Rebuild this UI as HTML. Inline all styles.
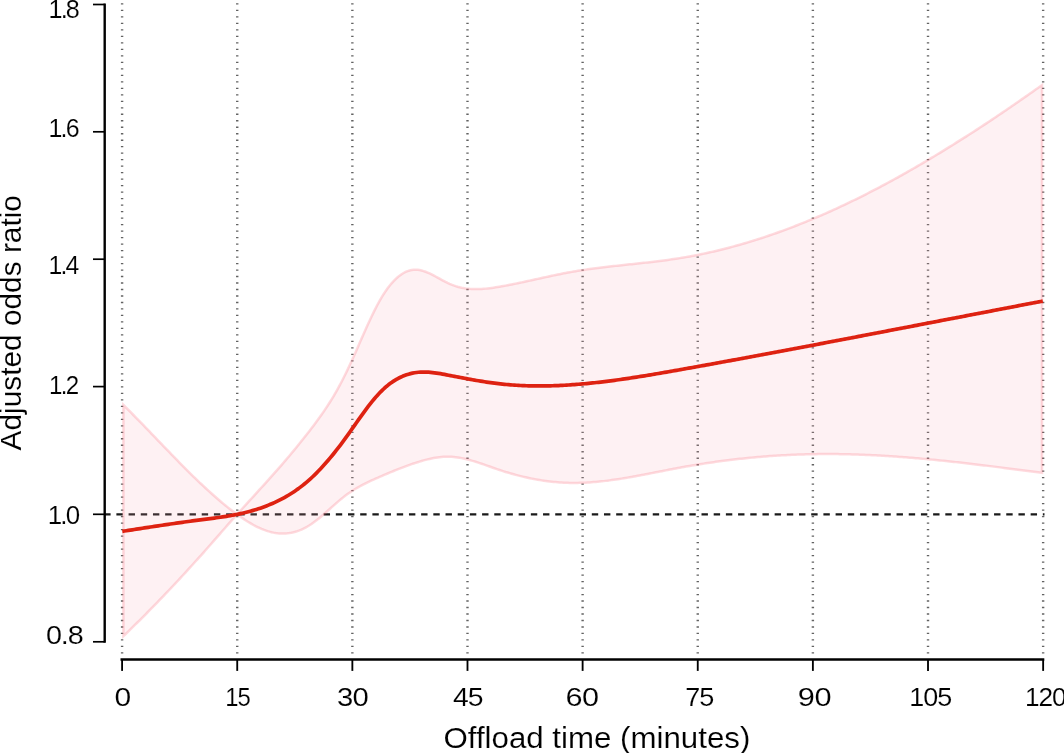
<!DOCTYPE html>
<html lang="en">
<head>
<meta charset="utf-8">
<title>Adjusted odds ratio by offload time</title>
<style>
html,body{margin:0;padding:0;background:#fff;}
body{width:1064px;height:753px;overflow:hidden;}
svg{display:block;}
text{white-space:pre;}
</style>
</head>
<body>
<svg width="1064" height="753" viewBox="0 0 1064 753" role="img" aria-label="Adjusted odds ratio by offload time (minutes)">
<rect width="1064" height="753" fill="#fff"/>
<g stroke="#626262" stroke-width="2.4" stroke-dasharray="1.3 5.19" fill="none">
<line x1="122.10" y1="-3.2" x2="122.10" y2="655"/>
<line x1="237.23" y1="-3.2" x2="237.23" y2="655"/>
<line x1="352.36" y1="-3.2" x2="352.36" y2="655"/>
<line x1="467.49" y1="-3.2" x2="467.49" y2="655"/>
<line x1="582.62" y1="-3.2" x2="582.62" y2="655"/>
<line x1="697.75" y1="-3.2" x2="697.75" y2="655"/>
<line x1="812.88" y1="-3.2" x2="812.88" y2="655"/>
<line x1="928.01" y1="-3.2" x2="928.01" y2="655"/>
<line x1="1043.14" y1="-3.2" x2="1043.14" y2="655"/>
</g>
<line x1="104.2" y1="514.4" x2="1044.5" y2="514.4" stroke="#1a1a1a" stroke-width="2.3" stroke-dasharray="6.4 5.79"/>
<path d="M123.4,405.01 L125.4,406.99 L127.4,408.97 L129.4,410.97 L131.4,412.98 L133.4,415.00 L135.4,417.03 L137.4,419.07 L139.4,421.12 L141.4,423.17 L143.4,425.23 L145.4,427.30 L147.4,429.37 L149.4,431.44 L151.4,433.52 L153.4,435.60 L155.4,437.68 L157.4,439.76 L159.4,441.84 L161.4,443.93 L163.4,446.01 L165.4,448.09 L167.4,450.16 L169.4,452.23 L171.4,454.30 L173.4,456.36 L175.4,458.42 L177.4,460.47 L179.4,462.51 L181.4,464.54 L183.4,466.56 L185.4,468.58 L187.4,470.58 L189.4,472.57 L191.4,474.55 L193.4,476.52 L195.4,478.47 L197.4,480.41 L199.4,482.33 L201.5,484.23 L203.5,486.12 L205.5,487.99 L207.5,489.84 L209.5,491.68 L211.5,493.49 L213.5,495.28 L215.5,497.04 L217.5,498.79 L219.5,500.51 L221.5,502.20 L223.5,503.87 L225.5,505.51 L227.5,507.12 L229.5,508.71 L231.5,510.26 L233.5,511.78 L235.5,513.28 L237.5,514.74 L239.5,516.16 L241.5,517.55 L243.5,518.90 L245.5,520.21 L247.5,521.48 L249.5,522.70 L251.5,523.86 L253.5,524.98 L255.5,526.04 L257.5,527.04 L259.5,527.98 L261.5,528.86 L263.5,529.67 L265.5,530.41 L267.5,531.08 L269.5,531.67 L271.5,532.19 L273.5,532.63 L275.5,532.98 L277.5,533.25 L279.5,533.44 L281.5,533.53 L283.5,533.54 L285.5,533.46 L287.5,533.30 L289.5,533.04 L291.5,532.69 L293.5,532.25 L295.5,531.71 L297.5,531.08 L299.5,530.36 L301.5,529.54 L303.5,528.63 L305.5,527.62 L307.5,526.51 L309.5,525.30 L311.5,523.99 L313.5,522.59 L315.5,521.10 L317.5,519.55 L319.5,517.93 L321.5,516.25 L323.5,514.54 L325.5,512.79 L327.5,511.01 L329.5,509.22 L331.5,507.43 L333.5,505.64 L335.5,503.87 L337.5,502.12 L339.5,500.41 L341.5,498.74 L343.5,497.13 L345.5,495.58 L347.5,494.10 L349.5,492.69 L351.5,491.34 L353.6,490.05 L355.6,488.81 L357.6,487.63 L359.6,486.49 L361.6,485.40 L363.6,484.35 L365.6,483.33 L367.6,482.35 L369.6,481.39 L371.6,480.46 L373.6,479.55 L375.6,478.66 L377.6,477.77 L379.6,476.90 L381.6,476.04 L383.6,475.18 L385.6,474.33 L387.6,473.48 L389.6,472.64 L391.6,471.81 L393.6,470.99 L395.6,470.18 L397.6,469.38 L399.6,468.59 L401.6,467.82 L403.6,467.06 L405.6,466.31 L407.6,465.58 L409.6,464.87 L411.6,464.17 L413.6,463.49 L415.6,462.83 L417.6,462.19 L419.6,461.57 L421.6,460.98 L423.6,460.41 L425.6,459.88 L427.6,459.38 L429.6,458.91 L431.6,458.48 L433.6,458.09 L435.6,457.75 L437.6,457.45 L439.6,457.20 L441.6,457.00 L443.6,456.85 L445.6,456.76 L447.6,456.72 L449.6,456.75 L451.6,456.84 L453.6,456.99 L455.6,457.20 L457.6,457.46 L459.6,457.78 L461.6,458.14 L463.6,458.55 L465.6,459.00 L467.6,459.49 L469.6,460.02 L471.6,460.58 L473.6,461.17 L475.6,461.78 L477.6,462.42 L479.6,463.07 L481.6,463.75 L483.6,464.43 L485.6,465.13 L487.6,465.83 L489.6,466.54 L491.6,467.25 L493.6,467.95 L495.6,468.65 L497.6,469.34 L499.6,470.02 L501.6,470.68 L503.6,471.33 L505.6,471.96 L507.7,472.57 L509.7,473.17 L511.7,473.75 L513.7,474.31 L515.7,474.86 L517.7,475.39 L519.7,475.90 L521.7,476.40 L523.7,476.88 L525.7,477.34 L527.7,477.78 L529.7,478.21 L531.7,478.62 L533.7,479.01 L535.7,479.38 L537.7,479.74 L539.7,480.07 L541.7,480.39 L543.7,480.69 L545.7,480.98 L547.7,481.24 L549.7,481.48 L551.7,481.71 L553.7,481.92 L555.7,482.11 L557.7,482.28 L559.7,482.43 L561.7,482.56 L563.7,482.67 L565.7,482.76 L567.7,482.84 L569.7,482.89 L571.7,482.92 L573.7,482.94 L575.7,482.93 L577.7,482.91 L579.7,482.87 L581.7,482.81 L583.7,482.73 L585.7,482.64 L587.7,482.53 L589.7,482.40 L591.7,482.26 L593.7,482.11 L595.7,481.94 L597.7,481.75 L599.7,481.55 L601.7,481.34 L603.7,481.12 L605.7,480.88 L607.7,480.64 L609.7,480.38 L611.7,480.11 L613.7,479.83 L615.7,479.54 L617.7,479.24 L619.7,478.93 L621.7,478.61 L623.7,478.29 L625.7,477.95 L627.7,477.61 L629.7,477.27 L631.7,476.91 L633.7,476.55 L635.7,476.19 L637.7,475.82 L639.7,475.44 L641.7,475.07 L643.7,474.68 L645.7,474.30 L647.7,473.91 L649.7,473.52 L651.7,473.13 L653.7,472.73 L655.7,472.34 L657.7,471.94 L659.8,471.55 L661.8,471.15 L663.8,470.76 L665.8,470.37 L667.8,469.97 L669.8,469.59 L671.8,469.20 L673.8,468.82 L675.8,468.44 L677.8,468.06 L679.8,467.69 L681.8,467.32 L683.8,466.96 L685.8,466.60 L687.8,466.25 L689.8,465.91 L691.8,465.57 L693.8,465.23 L695.8,464.90 L697.8,464.57 L699.8,464.25 L701.8,463.93 L703.8,463.62 L705.8,463.31 L707.8,463.01 L709.8,462.71 L711.8,462.42 L713.8,462.14 L715.8,461.85 L717.8,461.58 L719.8,461.30 L721.8,461.04 L723.8,460.77 L725.8,460.52 L727.8,460.27 L729.8,460.02 L731.8,459.78 L733.8,459.54 L735.8,459.31 L737.8,459.08 L739.8,458.86 L741.8,458.64 L743.8,458.43 L745.8,458.22 L747.8,458.02 L749.8,457.82 L751.8,457.63 L753.8,457.44 L755.8,457.26 L757.8,457.08 L759.8,456.91 L761.8,456.74 L763.8,456.58 L765.8,456.42 L767.8,456.27 L769.8,456.12 L771.8,455.98 L773.8,455.84 L775.8,455.71 L777.8,455.59 L779.8,455.46 L781.8,455.35 L783.8,455.23 L785.8,455.13 L787.8,455.02 L789.8,454.93 L791.8,454.84 L793.8,454.75 L795.8,454.67 L797.8,454.59 L799.8,454.52 L801.8,454.45 L803.8,454.39 L805.8,454.33 L807.8,454.28 L809.8,454.24 L811.8,454.19 L813.9,454.16 L815.9,454.13 L817.9,454.10 L819.9,454.08 L821.9,454.06 L823.9,454.05 L825.9,454.04 L827.9,454.04 L829.9,454.05 L831.9,454.05 L833.9,454.07 L835.9,454.09 L837.9,454.11 L839.9,454.14 L841.9,454.17 L843.9,454.20 L845.9,454.24 L847.9,454.29 L849.9,454.34 L851.9,454.39 L853.9,454.45 L855.9,454.51 L857.9,454.58 L859.9,454.65 L861.9,454.73 L863.9,454.81 L865.9,454.89 L867.9,454.98 L869.9,455.07 L871.9,455.17 L873.9,455.26 L875.9,455.37 L877.9,455.47 L879.9,455.59 L881.9,455.70 L883.9,455.82 L885.9,455.94 L887.9,456.06 L889.9,456.19 L891.9,456.33 L893.9,456.46 L895.9,456.60 L897.9,456.74 L899.9,456.89 L901.9,457.04 L903.9,457.19 L905.9,457.35 L907.9,457.50 L909.9,457.66 L911.9,457.83 L913.9,458.00 L915.9,458.17 L917.9,458.34 L919.9,458.52 L921.9,458.70 L923.9,458.88 L925.9,459.06 L927.9,459.25 L929.9,459.44 L931.9,459.63 L933.9,459.83 L935.9,460.02 L937.9,460.22 L939.9,460.43 L941.9,460.63 L943.9,460.84 L945.9,461.05 L947.9,461.26 L949.9,461.47 L951.9,461.69 L953.9,461.90 L955.9,462.12 L957.9,462.34 L959.9,462.57 L961.9,462.79 L963.9,463.02 L966.0,463.25 L968.0,463.48 L970.0,463.71 L972.0,463.95 L974.0,464.18 L976.0,464.42 L978.0,464.66 L980.0,464.90 L982.0,465.14 L984.0,465.39 L986.0,465.63 L988.0,465.88 L990.0,466.13 L992.0,466.37 L994.0,466.62 L996.0,466.87 L998.0,467.13 L1000.0,467.38 L1002.0,467.63 L1004.0,467.89 L1006.0,468.14 L1008.0,468.40 L1010.0,468.66 L1012.0,468.92 L1014.0,469.18 L1016.0,469.44 L1018.0,469.70 L1020.0,469.96 L1022.0,470.22 L1024.0,470.48 L1026.0,470.74 L1028.0,471.00 L1030.0,471.27 L1032.0,471.53 L1034.0,471.80 L1036.0,472.06 L1038.0,472.32 L1040.0,472.59 L1042.0,472.85 L1042.0,85.07 L1040.0,86.49 L1038.0,87.91 L1036.0,89.33 L1034.0,90.74 L1032.0,92.15 L1030.0,93.56 L1028.0,94.96 L1026.0,96.36 L1024.0,97.76 L1022.0,99.15 L1020.0,100.54 L1018.0,101.93 L1016.0,103.31 L1014.0,104.69 L1012.0,106.06 L1010.0,107.43 L1008.0,108.80 L1006.0,110.16 L1004.0,111.52 L1002.0,112.88 L1000.0,114.23 L998.0,115.58 L996.0,116.92 L994.0,118.26 L992.0,119.60 L990.0,120.93 L988.0,122.26 L986.0,123.59 L984.0,124.91 L982.0,126.22 L980.0,127.53 L978.0,128.84 L976.0,130.14 L974.0,131.44 L972.0,132.74 L970.0,134.03 L968.0,135.31 L966.0,136.59 L963.9,137.87 L961.9,139.14 L959.9,140.41 L957.9,141.68 L955.9,142.93 L953.9,144.19 L951.9,145.44 L949.9,146.68 L947.9,147.92 L945.9,149.16 L943.9,150.39 L941.9,151.61 L939.9,152.83 L937.9,154.05 L935.9,155.26 L933.9,156.47 L931.9,157.67 L929.9,158.86 L927.9,160.05 L925.9,161.24 L923.9,162.42 L921.9,163.60 L919.9,164.77 L917.9,165.93 L915.9,167.09 L913.9,168.24 L911.9,169.39 L909.9,170.54 L907.9,171.68 L905.9,172.81 L903.9,173.94 L901.9,175.06 L899.9,176.17 L897.9,177.29 L895.9,178.39 L893.9,179.49 L891.9,180.58 L889.9,181.67 L887.9,182.75 L885.9,183.83 L883.9,184.90 L881.9,185.97 L879.9,187.03 L877.9,188.08 L875.9,189.13 L873.9,190.17 L871.9,191.20 L869.9,192.23 L867.9,193.26 L865.9,194.27 L863.9,195.28 L861.9,196.29 L859.9,197.29 L857.9,198.28 L855.9,199.27 L853.9,200.25 L851.9,201.22 L849.9,202.19 L847.9,203.15 L845.9,204.10 L843.9,205.05 L841.9,205.99 L839.9,206.93 L837.9,207.86 L835.9,208.78 L833.9,209.69 L831.9,210.60 L829.9,211.50 L827.9,212.40 L825.9,213.29 L823.9,214.17 L821.9,215.04 L819.9,215.91 L817.9,216.77 L815.9,217.62 L813.9,218.47 L811.8,219.31 L809.8,220.14 L807.8,220.97 L805.8,221.79 L803.8,222.60 L801.8,223.41 L799.8,224.20 L797.8,224.99 L795.8,225.78 L793.8,226.55 L791.8,227.32 L789.8,228.08 L787.8,228.84 L785.8,229.59 L783.8,230.33 L781.8,231.06 L779.8,231.78 L777.8,232.50 L775.8,233.21 L773.8,233.91 L771.8,234.61 L769.8,235.30 L767.8,235.98 L765.8,236.65 L763.8,237.32 L761.8,237.97 L759.8,238.62 L757.8,239.27 L755.8,239.90 L753.8,240.53 L751.8,241.15 L749.8,241.76 L747.8,242.36 L745.8,242.96 L743.8,243.55 L741.8,244.13 L739.8,244.70 L737.8,245.27 L735.8,245.82 L733.8,246.37 L731.8,246.91 L729.8,247.45 L727.8,247.97 L725.8,248.49 L723.8,249.00 L721.8,249.50 L719.8,249.99 L717.8,250.48 L715.8,250.95 L713.8,251.42 L711.8,251.88 L709.8,252.33 L707.8,252.78 L705.8,253.21 L703.8,253.64 L701.8,254.06 L699.8,254.47 L697.8,254.87 L695.8,255.27 L693.8,255.65 L691.8,256.03 L689.8,256.40 L687.8,256.76 L685.8,257.11 L683.8,257.45 L681.8,257.79 L679.8,258.11 L677.8,258.43 L675.8,258.74 L673.8,259.04 L671.8,259.33 L669.8,259.62 L667.8,259.90 L665.8,260.17 L663.8,260.44 L661.8,260.70 L659.8,260.96 L657.7,261.21 L655.7,261.45 L653.7,261.69 L651.7,261.93 L649.7,262.16 L647.7,262.39 L645.7,262.62 L643.7,262.84 L641.7,263.06 L639.7,263.28 L637.7,263.50 L635.7,263.71 L633.7,263.93 L631.7,264.14 L629.7,264.36 L627.7,264.57 L625.7,264.78 L623.7,265.00 L621.7,265.21 L619.7,265.43 L617.7,265.65 L615.7,265.87 L613.7,266.09 L611.7,266.31 L609.7,266.54 L607.7,266.77 L605.7,267.00 L603.7,267.24 L601.7,267.49 L599.7,267.73 L597.7,267.98 L595.7,268.24 L593.7,268.51 L591.7,268.77 L589.7,269.05 L587.7,269.33 L585.7,269.62 L583.7,269.92 L581.7,270.22 L579.7,270.53 L577.7,270.85 L575.7,271.18 L573.7,271.52 L571.7,271.87 L569.7,272.23 L567.7,272.59 L565.7,272.97 L563.7,273.35 L561.7,273.75 L559.7,274.15 L557.7,274.56 L555.7,274.97 L553.7,275.39 L551.7,275.81 L549.7,276.24 L547.7,276.68 L545.7,277.11 L543.7,277.55 L541.7,277.99 L539.7,278.44 L537.7,278.88 L535.7,279.32 L533.7,279.77 L531.7,280.21 L529.7,280.65 L527.7,281.09 L525.7,281.53 L523.7,281.96 L521.7,282.39 L519.7,282.82 L517.7,283.24 L515.7,283.65 L513.7,284.06 L511.7,284.46 L509.7,284.85 L507.7,285.24 L505.6,285.62 L503.6,285.99 L501.6,286.34 L499.6,286.69 L497.6,287.03 L495.6,287.35 L493.6,287.65 L491.6,287.94 L489.6,288.20 L487.6,288.43 L485.6,288.63 L483.6,288.80 L481.6,288.94 L479.6,289.04 L477.6,289.09 L475.6,289.11 L473.6,289.07 L471.6,288.98 L469.6,288.84 L467.6,288.64 L465.6,288.39 L463.6,288.07 L461.6,287.68 L459.6,287.23 L457.6,286.71 L455.6,286.11 L453.6,285.43 L451.6,284.67 L449.6,283.83 L447.6,282.91 L445.6,281.92 L443.6,280.87 L441.6,279.80 L439.6,278.70 L437.6,277.60 L435.6,276.51 L433.6,275.44 L431.6,274.42 L429.6,273.46 L427.6,272.57 L425.6,271.77 L423.6,271.08 L421.6,270.51 L419.6,270.08 L417.6,269.80 L415.6,269.68 L413.6,269.75 L411.6,270.02 L409.6,270.47 L407.6,271.11 L405.6,271.95 L403.6,272.98 L401.6,274.20 L399.6,275.63 L397.6,277.25 L395.6,279.06 L393.6,281.08 L391.6,283.30 L389.6,285.71 L387.6,288.34 L385.6,291.16 L383.6,294.19 L381.6,297.42 L379.6,300.86 L377.6,304.50 L375.6,308.33 L373.6,312.32 L371.6,316.45 L369.6,320.70 L367.6,325.06 L365.6,329.50 L363.6,334.00 L361.6,338.55 L359.6,343.11 L357.6,347.68 L355.6,352.24 L353.6,356.75 L351.5,361.21 L349.5,365.59 L347.5,369.87 L345.5,374.03 L343.5,378.06 L341.5,381.95 L339.5,385.71 L337.5,389.34 L335.5,392.85 L333.5,396.26 L331.5,399.56 L329.5,402.76 L327.5,405.87 L325.5,408.89 L323.5,411.84 L321.5,414.72 L319.5,417.54 L317.5,420.30 L315.5,423.01 L313.5,425.67 L311.5,428.30 L309.5,430.91 L307.5,433.48 L305.5,436.03 L303.5,438.56 L301.5,441.07 L299.5,443.56 L297.5,446.02 L295.5,448.47 L293.5,450.89 L291.5,453.30 L289.5,455.69 L287.5,458.06 L285.5,460.41 L283.5,462.74 L281.5,465.06 L279.5,467.36 L277.5,469.65 L275.5,471.92 L273.5,474.18 L271.5,476.43 L269.5,478.66 L267.5,480.89 L265.5,483.10 L263.5,485.31 L261.5,487.51 L259.5,489.71 L257.5,491.91 L255.5,494.10 L253.5,496.29 L251.5,498.48 L249.5,500.67 L247.5,502.86 L245.5,505.06 L243.5,507.26 L241.5,509.47 L239.5,511.69 L237.5,513.92 L235.5,516.16 L233.5,518.40 L231.5,520.66 L229.5,522.92 L227.5,525.19 L225.5,527.47 L223.5,529.75 L221.5,532.03 L219.5,534.31 L217.5,536.60 L215.5,538.89 L213.5,541.17 L211.5,543.46 L209.5,545.74 L207.5,548.02 L205.5,550.29 L203.5,552.56 L201.5,554.82 L199.4,557.07 L197.4,559.31 L195.4,561.54 L193.4,563.76 L191.4,565.98 L189.4,568.19 L187.4,570.38 L185.4,572.57 L183.4,574.75 L181.4,576.92 L179.4,579.08 L177.4,581.24 L175.4,583.38 L173.4,585.52 L171.4,587.64 L169.4,589.76 L167.4,591.87 L165.4,593.97 L163.4,596.07 L161.4,598.15 L159.4,600.23 L157.4,602.29 L155.4,604.35 L153.4,606.40 L151.4,608.44 L149.4,610.48 L147.4,612.50 L145.4,614.52 L143.4,616.53 L141.4,618.53 L139.4,620.52 L137.4,622.50 L135.4,624.48 L133.4,626.44 L131.4,628.40 L129.4,630.35 L127.4,632.29 L125.4,634.23 L123.4,636.15Z" fill="#fba5b2" fill-opacity="0.155" stroke="#fd7884" stroke-opacity="0.27" stroke-width="2.5" stroke-linejoin="miter" fill-rule="nonzero"/>
<path d="M122.3,531.34 L124.3,531.03 L126.3,530.72 L128.3,530.41 L130.3,530.11 L132.3,529.80 L134.3,529.49 L136.3,529.18 L138.3,528.87 L140.3,528.56 L142.3,528.25 L144.3,527.95 L146.3,527.64 L148.3,527.33 L150.3,527.03 L152.3,526.73 L154.3,526.42 L156.3,526.12 L158.3,525.82 L160.3,525.52 L162.3,525.22 L164.3,524.92 L166.3,524.63 L168.3,524.34 L170.3,524.04 L172.3,523.75 L174.3,523.46 L176.3,523.17 L178.3,522.89 L180.3,522.60 L182.3,522.32 L184.3,522.04 L186.3,521.77 L188.3,521.49 L190.3,521.22 L192.3,520.94 L194.3,520.68 L196.3,520.41 L198.3,520.15 L200.3,519.89 L202.3,519.63 L204.3,519.37 L206.3,519.11 L208.3,518.85 L210.3,518.59 L212.3,518.33 L214.3,518.06 L216.4,517.79 L218.4,517.51 L220.4,517.22 L222.4,516.92 L224.4,516.62 L226.4,516.30 L228.4,515.97 L230.4,515.62 L232.4,515.26 L234.4,514.89 L236.4,514.50 L238.4,514.09 L240.4,513.66 L242.4,513.21 L244.4,512.74 L246.4,512.25 L248.4,511.74 L250.4,511.20 L252.4,510.64 L254.4,510.05 L256.4,509.44 L258.4,508.80 L260.4,508.13 L262.4,507.43 L264.4,506.70 L266.4,505.94 L268.4,505.15 L270.4,504.33 L272.4,503.47 L274.4,502.58 L276.4,501.65 L278.4,500.68 L280.4,499.68 L282.4,498.63 L284.4,497.55 L286.4,496.42 L288.4,495.24 L290.4,494.02 L292.4,492.75 L294.4,491.43 L296.4,490.05 L298.4,488.63 L300.4,487.14 L302.4,485.60 L304.4,484.00 L306.4,482.34 L308.4,480.62 L310.4,478.84 L312.4,476.99 L314.4,475.08 L316.4,473.10 L318.4,471.07 L320.4,468.97 L322.4,466.82 L324.4,464.61 L326.4,462.34 L328.4,460.02 L330.4,457.64 L332.4,455.21 L334.4,452.74 L336.4,450.21 L338.4,447.63 L340.4,445.01 L342.4,442.34 L344.4,439.63 L346.4,436.87 L348.4,434.08 L350.4,431.26 L352.4,428.43 L354.4,425.58 L356.4,422.74 L358.4,419.91 L360.4,417.09 L362.4,414.31 L364.4,411.56 L366.4,408.87 L368.4,406.22 L370.4,403.65 L372.4,401.15 L374.4,398.74 L376.4,396.41 L378.4,394.20 L380.4,392.09 L382.4,390.11 L384.4,388.24 L386.4,386.48 L388.4,384.84 L390.4,383.31 L392.4,381.89 L394.4,380.58 L396.4,379.37 L398.4,378.26 L400.5,377.25 L402.5,376.33 L404.5,375.52 L406.5,374.79 L408.5,374.16 L410.5,373.61 L412.5,373.16 L414.5,372.78 L416.5,372.49 L418.5,372.27 L420.5,372.13 L422.5,372.06 L424.5,372.05 L426.5,372.10 L428.5,372.20 L430.5,372.35 L432.5,372.55 L434.5,372.79 L436.5,373.07 L438.5,373.37 L440.5,373.70 L442.5,374.06 L444.5,374.43 L446.5,374.81 L448.5,375.20 L450.5,375.60 L452.5,375.99 L454.5,376.38 L456.5,376.77 L458.5,377.16 L460.5,377.54 L462.5,377.92 L464.5,378.30 L466.5,378.67 L468.5,379.04 L470.5,379.41 L472.5,379.76 L474.5,380.12 L476.5,380.46 L478.5,380.80 L480.5,381.13 L482.5,381.45 L484.5,381.77 L486.5,382.07 L488.5,382.37 L490.5,382.65 L492.5,382.92 L494.5,383.19 L496.5,383.44 L498.5,383.68 L500.5,383.91 L502.5,384.12 L504.5,384.32 L506.5,384.51 L508.5,384.69 L510.5,384.85 L512.5,385.01 L514.5,385.15 L516.5,385.27 L518.5,385.39 L520.5,385.50 L522.5,385.59 L524.5,385.67 L526.5,385.75 L528.5,385.81 L530.5,385.86 L532.5,385.90 L534.5,385.93 L536.5,385.95 L538.5,385.96 L540.5,385.96 L542.5,385.95 L544.5,385.93 L546.5,385.90 L548.5,385.86 L550.5,385.81 L552.5,385.75 L554.5,385.69 L556.5,385.61 L558.5,385.53 L560.5,385.44 L562.5,385.34 L564.5,385.23 L566.5,385.11 L568.5,384.99 L570.5,384.86 L572.5,384.72 L574.5,384.57 L576.5,384.42 L578.5,384.26 L580.5,384.09 L582.5,383.92 L584.6,383.74 L586.6,383.55 L588.6,383.36 L590.6,383.16 L592.6,382.95 L594.6,382.74 L596.6,382.52 L598.6,382.29 L600.6,382.06 L602.6,381.83 L604.6,381.58 L606.6,381.34 L608.6,381.09 L610.6,380.83 L612.6,380.57 L614.6,380.30 L616.6,380.03 L618.6,379.75 L620.6,379.47 L622.6,379.19 L624.6,378.90 L626.6,378.60 L628.6,378.31 L630.6,378.01 L632.6,377.70 L634.6,377.39 L636.6,377.08 L638.6,376.77 L640.6,376.45 L642.6,376.13 L644.6,375.80 L646.6,375.48 L648.6,375.15 L650.6,374.82 L652.6,374.48 L654.6,374.14 L656.6,373.80 L658.6,373.46 L660.6,373.12 L662.6,372.78 L664.6,372.43 L666.6,372.08 L668.6,371.73 L670.6,371.38 L672.6,371.03 L674.6,370.68 L676.6,370.32 L678.6,369.97 L680.6,369.61 L682.6,369.26 L684.6,368.90 L686.6,368.54 L688.6,368.19 L690.6,367.83 L692.6,367.47 L694.6,367.11 L696.6,366.75 L698.6,366.39 L700.6,366.03 L702.6,365.67 L704.6,365.31 L706.6,364.94 L708.6,364.58 L710.6,364.22 L712.6,363.86 L714.6,363.49 L716.6,363.13 L718.6,362.76 L720.6,362.40 L722.6,362.03 L724.6,361.66 L726.6,361.30 L728.6,360.93 L730.6,360.56 L732.6,360.19 L734.6,359.83 L736.6,359.46 L738.6,359.09 L740.6,358.72 L742.6,358.35 L744.6,357.98 L746.6,357.61 L748.6,357.24 L750.6,356.87 L752.6,356.49 L754.6,356.12 L756.6,355.75 L758.6,355.38 L760.6,355.00 L762.6,354.63 L764.6,354.26 L766.6,353.88 L768.7,353.51 L770.7,353.13 L772.7,352.76 L774.7,352.38 L776.7,352.01 L778.7,351.63 L780.7,351.25 L782.7,350.88 L784.7,350.50 L786.7,350.12 L788.7,349.75 L790.7,349.37 L792.7,348.99 L794.7,348.62 L796.7,348.24 L798.7,347.86 L800.7,347.48 L802.7,347.10 L804.7,346.72 L806.7,346.34 L808.7,345.96 L810.7,345.59 L812.7,345.21 L814.7,344.83 L816.7,344.45 L818.7,344.07 L820.7,343.69 L822.7,343.31 L824.7,342.93 L826.7,342.54 L828.7,342.16 L830.7,341.78 L832.7,341.40 L834.7,341.02 L836.7,340.64 L838.7,340.26 L840.7,339.88 L842.7,339.50 L844.7,339.11 L846.7,338.73 L848.7,338.35 L850.7,337.97 L852.7,337.59 L854.7,337.20 L856.7,336.82 L858.7,336.44 L860.7,336.06 L862.7,335.67 L864.7,335.29 L866.7,334.91 L868.7,334.52 L870.7,334.14 L872.7,333.76 L874.7,333.37 L876.7,332.99 L878.7,332.61 L880.7,332.22 L882.7,331.84 L884.7,331.46 L886.7,331.07 L888.7,330.69 L890.7,330.30 L892.7,329.92 L894.7,329.54 L896.7,329.15 L898.7,328.77 L900.7,328.38 L902.7,328.00 L904.7,327.62 L906.7,327.23 L908.7,326.85 L910.7,326.46 L912.7,326.08 L914.7,325.69 L916.7,325.31 L918.7,324.92 L920.7,324.54 L922.7,324.15 L924.7,323.77 L926.7,323.38 L928.7,323.00 L930.7,322.61 L932.7,322.23 L934.7,321.84 L936.7,321.46 L938.7,321.07 L940.7,320.69 L942.7,320.30 L944.7,319.92 L946.7,319.53 L948.7,319.15 L950.7,318.76 L952.8,318.38 L954.8,317.99 L956.8,317.61 L958.8,317.22 L960.8,316.84 L962.8,316.45 L964.8,316.07 L966.8,315.68 L968.8,315.30 L970.8,314.91 L972.8,314.53 L974.8,314.14 L976.8,313.76 L978.8,313.37 L980.8,312.99 L982.8,312.60 L984.8,312.22 L986.8,311.83 L988.8,311.45 L990.8,311.06 L992.8,310.68 L994.8,310.29 L996.8,309.91 L998.8,309.52 L1000.8,309.14 L1002.8,308.76 L1004.8,308.37 L1006.8,307.99 L1008.8,307.60 L1010.8,307.22 L1012.8,306.83 L1014.8,306.45 L1016.8,306.06 L1018.8,305.68 L1020.8,305.30 L1022.8,304.91 L1024.8,304.53 L1026.8,304.14 L1028.8,303.76 L1030.8,303.38 L1032.8,302.99 L1034.8,302.61 L1036.8,302.23 L1038.8,301.84 L1040.8,301.46 L1042.8,301.08" fill="none" stroke="#de2211" stroke-width="3.7" stroke-linejoin="round"/>
<g stroke="#000" fill="none">
<line x1="104.7" y1="3.6" x2="104.7" y2="642.7" stroke-width="2.4"/>
<line x1="93" y1="4.5" x2="104.7" y2="4.5" stroke-width="1.7"/>
<line x1="93" y1="131.8" x2="104.7" y2="131.8" stroke-width="1.7"/>
<line x1="93" y1="259.2" x2="104.7" y2="259.2" stroke-width="1.7"/>
<line x1="93" y1="386.6" x2="104.7" y2="386.6" stroke-width="1.7"/>
<line x1="93" y1="514.3" x2="104.7" y2="514.3" stroke-width="1.7"/>
<line x1="93" y1="641.8" x2="104.7" y2="641.8" stroke-width="1.7"/>
<line x1="120.5" y1="659.45" x2="1044.3" y2="659.45" stroke-width="2.45"/>
<line x1="122.10" y1="659.4" x2="122.10" y2="670.9" stroke-width="1.85"/>
<line x1="237.23" y1="659.4" x2="237.23" y2="670.9" stroke-width="1.85"/>
<line x1="352.36" y1="659.4" x2="352.36" y2="670.9" stroke-width="1.85"/>
<line x1="467.49" y1="659.4" x2="467.49" y2="670.9" stroke-width="1.85"/>
<line x1="582.62" y1="659.4" x2="582.62" y2="670.9" stroke-width="1.85"/>
<line x1="697.75" y1="659.4" x2="697.75" y2="670.9" stroke-width="1.85"/>
<line x1="812.88" y1="659.4" x2="812.88" y2="670.9" stroke-width="1.85"/>
<line x1="928.01" y1="659.4" x2="928.01" y2="670.9" stroke-width="1.85"/>
<line x1="1043.14" y1="659.4" x2="1043.14" y2="670.9" stroke-width="1.85"/>
</g>
<g font-family="'Liberation Sans', sans-serif" fill="#000" stroke="#fff" stroke-width="0.12">
<text transform="translate(48.50,18) scale(0.9982,1)" font-size="25.2" letter-spacing="-1.8">1.8</text>
<text transform="translate(48.52,137) scale(0.9912,1)" font-size="25.2" letter-spacing="-1.8">1.6</text>
<text transform="translate(48.54,274) scale(0.9809,1)" font-size="25.2" letter-spacing="-1.8">1.4</text>
<text transform="translate(49.09,394) scale(0.9558,1)" font-size="25.2" letter-spacing="-1.8">1.2</text>
<text transform="translate(47.74,524) scale(1.0281,1)" font-size="25.2" letter-spacing="-1.8">1.0</text>
<text transform="translate(45.96,644) scale(1.1419,1)" font-size="25.2" letter-spacing="-1.0">0.8</text>
<text transform="translate(114.61,706) scale(1.1917,1)" font-size="25.2">0</text>
<text transform="translate(225.21,706) scale(0.9458,1)" font-size="25.2" letter-spacing="-1.0">15</text>
<text transform="translate(336.94,706) scale(1.1608,1)" font-size="25.2" letter-spacing="-0.6">30</text>
<text transform="translate(453.04,706) scale(1.1255,1)" font-size="25.2" letter-spacing="-1.0">45</text>
<text transform="translate(565.38,706) scale(1.2157,1)" font-size="25.2" letter-spacing="-0.3">60</text>
<text transform="translate(685.26,706) scale(1.0747,1)" font-size="25.2" letter-spacing="-1.0">75</text>
<text transform="translate(797.68,706) scale(1.2196,1)" font-size="25.2" letter-spacing="-0.3">90</text>
<text transform="translate(909.36,706) scale(1.0703,1)" font-size="25.2" letter-spacing="-1.0">105</text>
<text transform="translate(1024.92,706) scale(1.0405,1)" font-size="25.2" letter-spacing="-1.0">120</text>
<text transform="translate(443.46,748) scale(1.0281,1)" font-size="30.4">Offload time (minutes)</text>
<text transform="translate(21.4,450.45) rotate(-90) scale(0.9951,1)" font-size="30.0">Adjusted odds ratio</text>
</g>
</svg>
</body>
</html>
